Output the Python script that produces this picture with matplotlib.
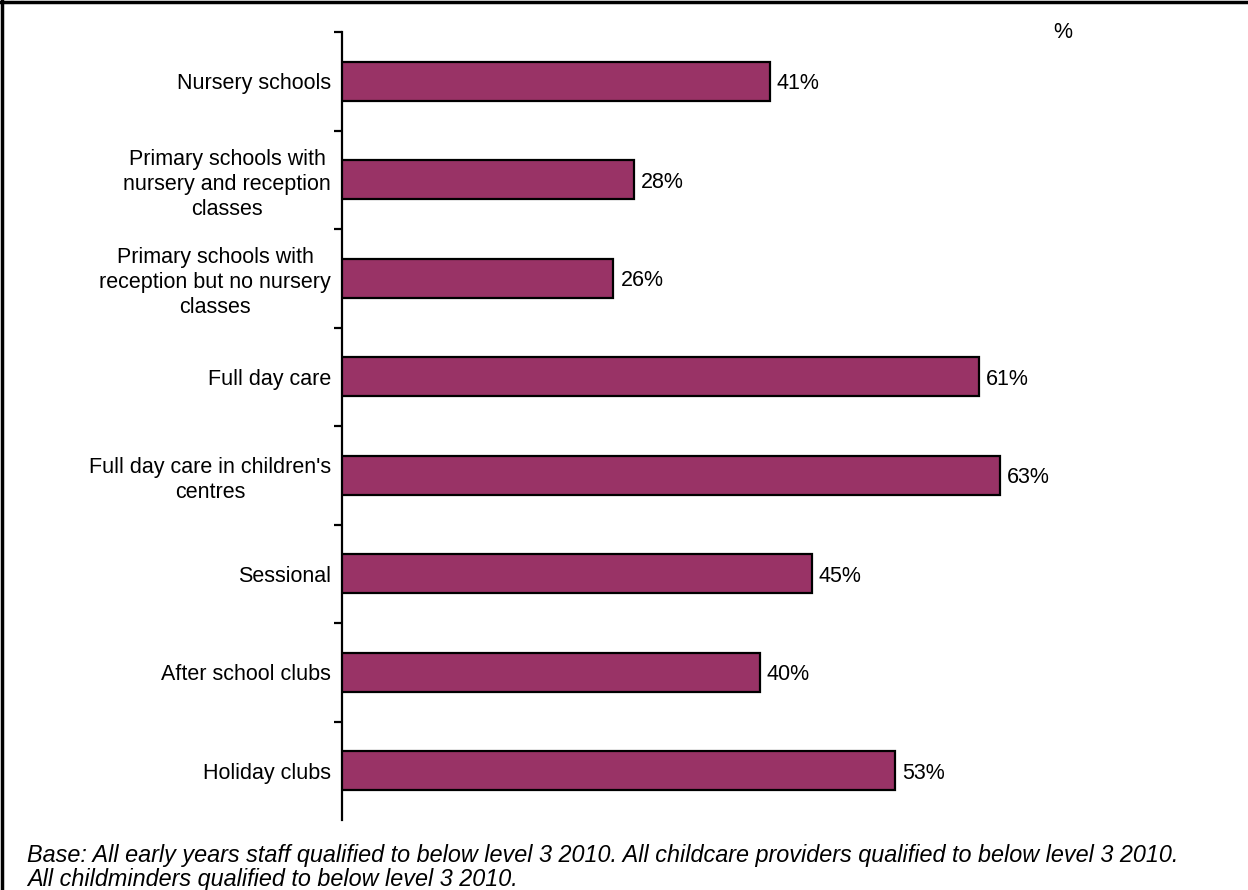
import matplotlib
matplotlib.use("Agg")
import matplotlib.pyplot as plt
from matplotlib.lines import Line2D
import numpy as np

plt.rcParams['font.family'] = ['Liberation Sans', 'DejaVu Sans']

categories = [
    "Nursery schools",
    "Primary schools with\nnursery and reception\nclasses",
    "Primary schools with\nreception but no nursery\nclasses",
    "Full day care",
    "Full day care in children's\ncentres",
    "Sessional",
    "After school clubs",
    "Holiday clubs",
]
values = [41, 28, 26, 61, 63, 45, 40, 53]
value_labels = ["41%", "28%", "26%", "61%", "63%", "45%", "40%", "53%"]
footnote = ("Base: All early years staff qualified to below level 3 2010. "
            "All childcare providers qualified to below level 3 2010.\n"
            "All childminders qualified to below level 3 2010.")

W, H = 1248, 890
fig = plt.figure(figsize=(W / 100, H / 100), dpi=100)

ax_left, ax_right = 342, 1100
ax_top, ax_bottom = 32, 820
ax = fig.add_axes([ax_left / W, 1 - ax_bottom / H,
                   (ax_right - ax_left) / W, (ax_bottom - ax_top) / H])

px_per_pct = 10.44
n = len(categories)
y = np.arange(n)
ax.barh(y, values, height=0.4, color="#993366", edgecolor="black", linewidth=1.6, zorder=3)
ax.set_ylim(n - 0.5, -0.5)
ax.set_xlim(0, (ax_right - ax_left) / px_per_pct)

for yi, v, lab in zip(y, values, value_labels):
    ax.annotate(lab, (v, yi), xytext=(5, 0), textcoords="offset points",
                va="center_baseline", ha="left", fontsize=15.5, color="black")

ax.set_yticks(y)
ax.set_yticklabels(categories, fontsize=15.5, linespacing=1.25)
for t in ax.get_yticklabels():
    t.set_ha("right")
    t.set_multialignment("center")
ax.tick_params(axis="y", which="major", length=0, pad=8)
ax.set_yticks(np.arange(n) - 0.5, minor=True)
ax.tick_params(axis="y", which="minor", length=6, width=1.6, direction="out")
ax.set_xticks([])
for s in ["top", "right", "bottom"]:
    ax.spines[s].set_visible(False)
ax.spines["left"].set_linewidth(1.6)

fig.text(1063 / W, 1 - 33 / H, "%", fontsize=15.5, ha="center", va="center")
fig.text(27 / W, 1 - 844 / H, footnote, fontsize=16.8, style="italic",
         ha="left", va="top", linespacing=1.05)

# frame lines along the top and left edges
fig.add_artist(Line2D([0, 1], [1 - 1.5 / H, 1 - 1.5 / H], transform=fig.transFigure,
                      color="black", linewidth=2.5))
fig.add_artist(Line2D([1.5 / W, 1.5 / W], [0, 1], transform=fig.transFigure,
                      color="black", linewidth=2.5))

fig.savefig("out.png", dpi=100, facecolor="white")
